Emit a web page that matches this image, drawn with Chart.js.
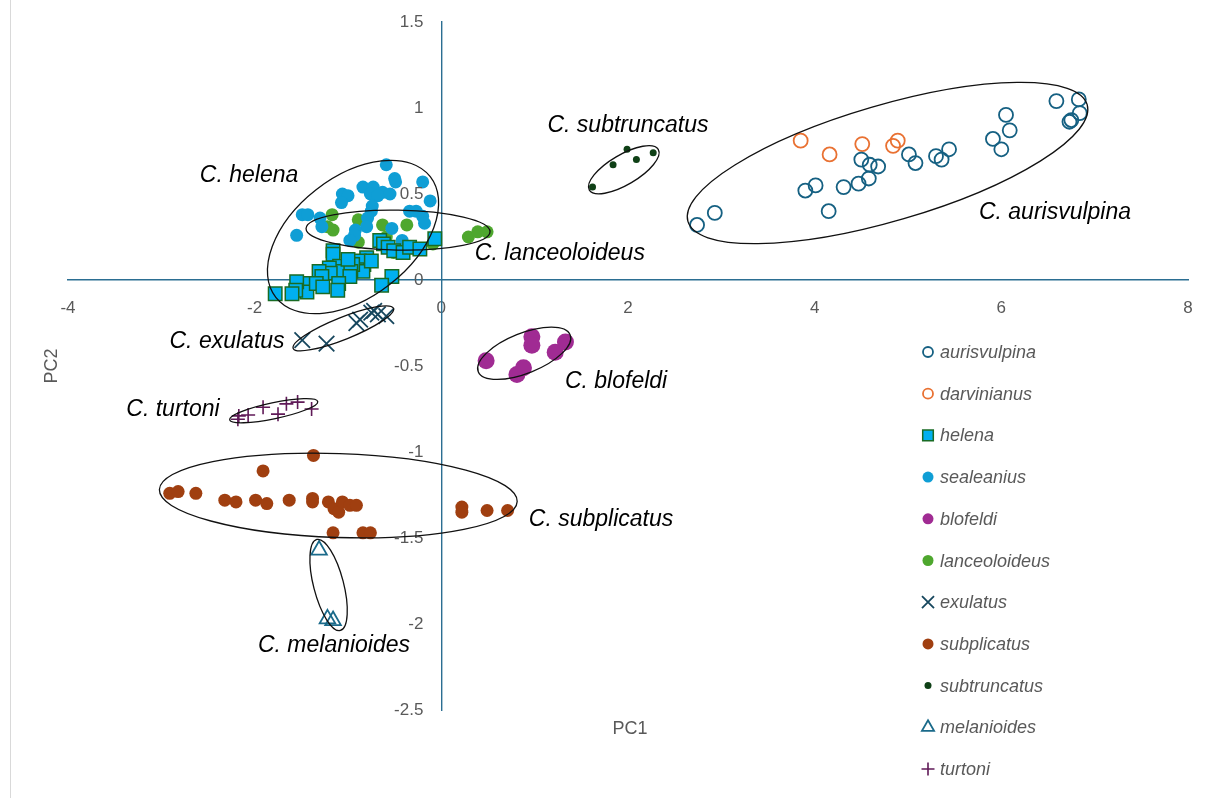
<!DOCTYPE html>
<html>
<head>
<meta charset="utf-8">
<script src="https://cdn.jsdelivr.net/npm/chart.js@4.4.1/dist/chart.umd.min.js"></script>
<style>
  html, body { margin: 0; padding: 0; background: #fff; }
  #wrap { position: relative; width: 1214px; height: 798px; }
  #edge { position: absolute; left: 10px; top: 0; width: 1px; height: 798px; background: #d9d9d9; }
  canvas { position: absolute; left: 0; top: 0; }
</style>
</head>
<body>
<div id="wrap">
  <div id="edge"></div>
  <canvas id="myChart" width="1214" height="798"></canvas>
</div>
<script>
// PC1 / PC2 scores per species
var aurisvulpina = [[2.74,0.32],[2.93,0.39],[3.90,0.52],[4.01,0.55],[4.15,0.40],[4.31,0.54],[4.47,0.56],[4.58,0.59],
  [4.50,0.70],[4.59,0.67],[4.68,0.66],[5.01,0.73],[5.08,0.68],[5.30,0.72],[5.36,0.70],[5.44,0.76],[5.91,0.82],
  [6.00,0.76],[6.05,0.96],[6.09,0.87],[6.59,1.04],[6.83,1.05],[6.84,0.97],[6.73,0.92],[6.75,0.93]];
var darvinianus = [[3.85,0.81],[4.16,0.73],[4.51,0.79],[4.84,0.78],[4.89,0.81]];
var helena = [[-0.66,0.23],[-0.62,0.21],[-0.57,0.19],[-0.51,0.17],[-0.41,0.16],[-0.34,0.19],[-0.23,0.18],[-0.07,0.24],
  [-1.16,0.17],[-1.16,0.15],[-0.80,0.13],[-0.83,0.09],[-0.88,0.11],[-0.90,0.06],[-0.84,0.05],[-0.95,0.09],
  [-1.09,0.08],[-1.08,0.05],[-1.20,0.07],[-1.19,0.04],[-1.31,0.05],[-1.28,0.02],[-0.97,0.05],[-0.98,0.02],
  [-0.53,0.02],[-0.64,-0.03],[-1.10,-0.02],[-1.11,-0.06],[-1.43,-0.02],[-1.44,-0.07],[-1.55,-0.01],[-1.56,-0.06],
  [-1.34,-0.02],[-1.78,-0.08],[-1.60,-0.08],[-1.27,-0.04],[-1.00,0.12],[-0.75,0.11]];
var sealeanius = [[-0.59,0.67],[-0.50,0.59],[-0.49,0.57],[-0.20,0.57],[-0.84,0.54],[-0.73,0.54],[-0.76,0.50],
  [-0.63,0.51],[-0.55,0.50],[-0.68,0.49],[-1.06,0.50],[-1.00,0.49],[-0.12,0.46],[-0.74,0.43],[-0.75,0.40],
  [-1.07,0.45],[-1.49,0.38],[-1.43,0.38],[-1.30,0.36],[-0.34,0.40],[-0.27,0.40],[-0.20,0.37],[-0.18,0.33],
  [-0.79,0.36],[-0.80,0.31],[-0.92,0.29],[-0.93,0.26],[-0.53,0.30],[-1.55,0.26],[-1.28,0.31],[-0.98,0.23],[-0.42,0.23]];
var blofeldi = [[0.48,-0.47],[0.97,-0.33],[0.97,-0.38],[1.22,-0.42],[1.33,-0.36],[0.81,-0.55],[0.88,-0.51]];
var lanceoloideus = [[-1.17,0.38],[-1.22,0.31],[-1.16,0.29],[-0.89,0.35],[-0.63,0.32],[-0.59,0.25],[-0.37,0.32],
  [-0.89,0.22],[-0.42,0.21],[-0.51,0.16],[-0.09,0.21],[0.29,0.25],[0.39,0.28],[0.49,0.28]];
var exulatus = [[-1.49,-0.35],[-1.23,-0.37],[-0.91,-0.25],[-0.87,-0.23],[-0.75,-0.19],[-0.72,-0.18],[-0.68,-0.20],[-0.59,-0.21]];
var subplicatus = [[-1.37,-1.02],[-1.91,-1.11],[-2.91,-1.24],[-2.82,-1.23],[-2.63,-1.24],[-2.32,-1.28],[-2.20,-1.29],
  [-1.99,-1.28],[-1.87,-1.30],[-1.63,-1.28],[-1.38,-1.27],[-1.38,-1.29],[-1.21,-1.29],[-1.15,-1.33],[-1.10,-1.35],
  [-1.06,-1.29],[-0.98,-1.31],[-0.91,-1.31],[-1.16,-1.47],[-0.84,-1.47],[-0.76,-1.47],[0.22,-1.32],[0.22,-1.35],
  [0.49,-1.34],[0.71,-1.34]];
var subtruncatus = [[1.62,0.54],[1.84,0.67],[1.99,0.76],[2.09,0.70],[2.27,0.74]];
var melanioides = [[-1.31,-1.57],[-1.22,-1.97],[-1.16,-1.98]];
var turtoni = [[-2.18,-0.81],[-2.17,-0.79],[-2.07,-0.785],[-1.91,-0.74],[-1.75,-0.78],[-1.66,-0.72],[-1.54,-0.71],[-1.39,-0.75]];

var xTicks = [-4, -2, 0, 2, 4, 6, 8];
var yTicks = [-2.5, -2, -1.5, -1, -0.5, 0, 0.5, 1, 1.5];

// group outlines: centre in PC units, radii in px, rotation in degrees
var ellipses = [
  {cx: -0.946, cy: 0.25, a: 98, b: 60, rot: -38},
  {cx: -0.464, cy: 0.29, a: 92, b: 20, rot: 1},
  {cx: -1.05, cy: -0.281, a: 54, b: 11, rot: -21.8},
  {cx: -1.796, cy: -0.76, a: 45, b: 8, rot: -11.8},
  {cx: -1.104, cy: -1.253, a: 179, b: 42, rot: 1.9},
  {cx: -1.208, cy: -1.773, a: 47, b: 15, rot: 75.5},
  {cx: 0.888, cy: -0.426, a: 49.5, b: 20, rot: -21.8},
  {cx: 1.955, cy: 0.641, a: 40, b: 15, rot: -30.5},
  {cx: 4.781, cy: 0.68, a: 208, b: 58, rot: -16.3}
];
var groupLabels = [
  {text: 'C. subtruncatus', x: 2.0, y: 0.895},
  {text: 'C. helena', x: -2.06, y: 0.605},
  {text: 'C. lanceoloideus', x: 1.27, y: 0.151},
  {text: 'C. aurisvulpina', x: 6.575, y: 0.39},
  {text: 'C. exulatus', x: -2.296, y: -0.36},
  {text: 'C. blofeldi', x: 1.872, y: -0.593},
  {text: 'C. turtoni', x: -2.875, y: -0.756},
  {text: 'C. subplicatus', x: 1.711, y: -1.395},
  {text: 'C. melanioides', x: -1.15, y: -2.128}
];

function pts(arr) {
  return arr.map(p => ({x: p[0], y: p[1]}));
}

var datasets = [
  {label: 'aurisvulpina', data: pts(aurisvulpina), pointStyle: 'circle', pointRadius: 7, borderColor: '#156082', backgroundColor: 'rgba(0,0,0,0)', borderWidth: 1.8, legendRadius: 5},
  {label: 'darvinianus', data: pts(darvinianus), pointStyle: 'circle', pointRadius: 7, borderColor: '#e97132', backgroundColor: 'rgba(0,0,0,0)', borderWidth: 1.8, legendRadius: 5},
  {label: 'helena', data: pts(helena), pointStyle: 'rect', pointRadius: 9.5, borderColor: '#196b24', backgroundColor: '#00b0f0', borderWidth: 1.5, legendRadius: 7.5},
  {label: 'sealeanius', data: pts(sealeanius), pointStyle: 'circle', pointRadius: 6.5, borderColor: '#0f9ed5', backgroundColor: '#0f9ed5', borderWidth: 0, legendRadius: 5.5},
  {label: 'blofeldi', data: pts(blofeldi), pointStyle: 'circle', pointRadius: 8.5, borderColor: '#a02b93', backgroundColor: '#a02b93', borderWidth: 0, legendRadius: 5.5},
  {label: 'lanceoloideus', data: pts(lanceoloideus), pointStyle: 'circle', pointRadius: 6.5, borderColor: '#4ea72e', backgroundColor: '#4ea72e', borderWidth: 0, legendRadius: 5.5},
  {label: 'exulatus', data: pts(exulatus), pointStyle: 'crossRot', pointRadius: 11, borderColor: '#17475e', backgroundColor: '#17475e', borderWidth: 1.8, legendRadius: 8.5},
  {label: 'subplicatus', data: pts(subplicatus), pointStyle: 'circle', pointRadius: 6.5, borderColor: '#a03f10', backgroundColor: '#a03f10', borderWidth: 0, legendRadius: 5.5},
  {label: 'subtruncatus', data: pts(subtruncatus), pointStyle: 'circle', pointRadius: 3.5, borderColor: '#0f4016', backgroundColor: '#0f4016', borderWidth: 0, legendRadius: 3.5},
  {label: 'melanioides', data: pts(melanioides), pointStyle: 'triangle', pointRadius: 9, borderColor: '#1a6a8a', backgroundColor: 'rgba(0,0,0,0)', borderWidth: 1.8, legendRadius: 7},
  {label: 'turtoni', data: pts(turtoni), pointStyle: 'cross', pointRadius: 7, borderColor: '#601a58', backgroundColor: '#601a58', borderWidth: 1.6, legendRadius: 6.5}
];
datasets.forEach(d => {
  d.pointBorderWidth = d.borderWidth;
  d.pointHoverRadius = d.pointRadius;
  d.showLine = false;
});

var tickFont = '17px "Liberation Sans", Arial, sans-serif';

var overlay = {
  id: 'overlay',
  afterDatasetsDraw(chart) {
    var ctx = chart.ctx;
    var xs = chart.scales.x, ys = chart.scales.y, area = chart.chartArea;
    ctx.save();
    // y tick labels, set off to the left of the crossing axis
    ctx.fillStyle = '#595959';
    ctx.font = tickFont;
    ctx.textAlign = 'right';
    ctx.textBaseline = 'middle';
    ys.ticks.forEach(t => {
      ctx.fillText(String(t.value), xs.getPixelForValue(0) - 18, ys.getPixelForValue(t.value));
    });
    // outlines
    ctx.strokeStyle = '#111';
    ctx.lineWidth = 1.3;
    ellipses.forEach(e => {
      ctx.beginPath();
      ctx.ellipse(xs.getPixelForValue(e.cx), ys.getPixelForValue(e.cy), e.a, e.b, e.rot * Math.PI / 180, 0, 2 * Math.PI);
      ctx.stroke();
    });
    // group names
    ctx.fillStyle = '#000';
    ctx.font = 'italic 23px "Liberation Sans", Arial, sans-serif';
    ctx.textAlign = 'center';
    groupLabels.forEach(l => {
      ctx.fillText(l.text, xs.getPixelForValue(l.x), ys.getPixelForValue(l.y));
    });
    // axis titles
    ctx.fillStyle = '#595959';
    ctx.font = '18px "Liberation Sans", Arial, sans-serif';
    ctx.fillText('PC1', (area.left + area.right) / 2 + 2, area.bottom + 19);
    ctx.save();
    ctx.translate(52, (area.top + area.bottom) / 2);
    ctx.rotate(-Math.PI / 2);
    ctx.fillText('PC2', 0, 0);
    ctx.restore();
    // legend
    ctx.textAlign = 'left';
    ctx.font = 'italic 18px "Liberation Sans", Arial, sans-serif';
    chart.data.datasets.forEach((d, i) => {
      var ly = 352 + i * 41.7;
      ctx.fillStyle = d.backgroundColor;
      ctx.strokeStyle = d.borderColor;
      ctx.lineWidth = d.borderWidth;
      Chart.helpers.drawPoint(ctx, {pointStyle: d.pointStyle, radius: d.legendRadius, rotation: 0, borderWidth: d.borderWidth}, 928, ly);
      ctx.fillStyle = '#595959';
      ctx.fillText(d.label, 940, ly + 1);
    });
    ctx.restore();
  }
};

var ctx = document.getElementById('myChart').getContext('2d');
var axisColor = '#2b6e92';
var myChart = new Chart(ctx, {
  type: 'scatter',
  data: {datasets: datasets},
  options: {
    responsive: false,
    animation: false,
    layout: {padding: {left: 68, right: 26, top: 22, bottom: 88}},
    plugins: {legend: {display: false}, tooltip: {enabled: false}},
    scales: {
      x: {
        type: 'linear',
        position: {y: 0},
        min: xTicks[0],
        max: xTicks[xTicks.length - 1],
        afterBuildTicks: s => { s.ticks = xTicks.map(v => ({value: v})); },
        grid: {display: false, drawTicks: false},
        border: {display: true, color: axisColor, width: 1.4},
        ticks: {color: '#595959', font: {size: 17, family: '"Liberation Sans", Arial, sans-serif'}, padding: 18, maxRotation: 0,
          callback: v => String(v)}
      },
      y: {
        type: 'linear',
        position: {x: 0},
        min: yTicks[0],
        max: yTicks[yTicks.length - 1],
        afterBuildTicks: s => { s.ticks = yTicks.map(v => ({value: v})); },
        grid: {display: false, drawTicks: false},
        border: {display: true, color: axisColor, width: 1.4},
        ticks: {display: false, padding: 0}
      }
    }
  },
  plugins: [overlay]
});
</script>
</body>
</html>
